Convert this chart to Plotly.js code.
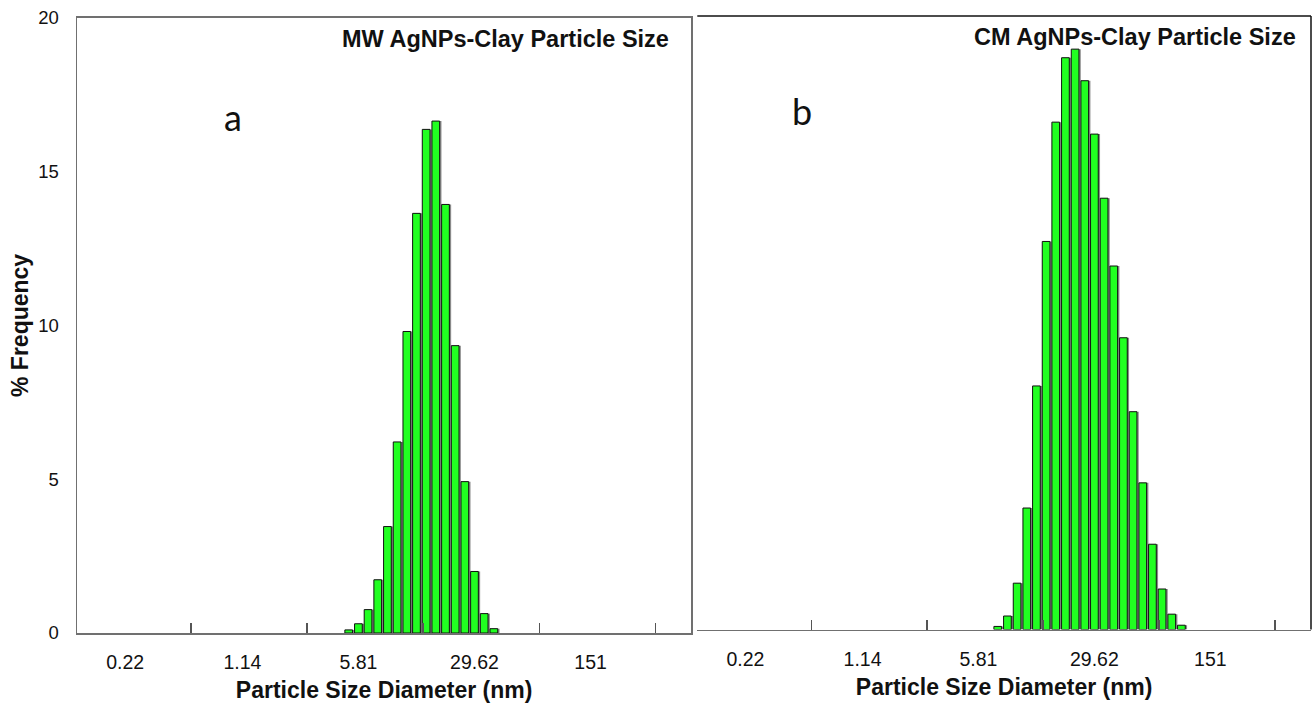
<!DOCTYPE html>
<html>
<head>
<meta charset="utf-8">
<script src="https://cdn.plot.ly/plotly-3.0.1.min.js"></script>
<style>html,body{margin:0;padding:0;background:#fff;}#chart{width:1313px;height:706px;}</style>
</head>
<body>
<div id="chart"></div>
<script>
// ---- data ----
const tickLabelValues = [0.22, 1.14, 5.81, 29.62, 151];
const tickLabelText = ['0.22', '1.14', '5.81', '29.62', '151'];
const tickMarkValues = [0.555, 2.83, 14.4, 73.5, 375];
const yTickValues = [0, 5, 10, 15, 20];

const mwDiameter = [5.07, 5.81, 6.65, 7.62, 8.73, 10.0, 11.46, 13.12, 15.03, 17.21, 19.72, 22.59, 25.87, 29.62, 33.94, 38.88];
const mwFrequency = [0.1, 0.3, 0.76, 1.73, 3.46, 6.21, 9.8, 13.64, 16.37, 16.64, 13.93, 9.34, 4.92, 2.0, 0.63, 0.14];

const cmDiameter = [7.62, 8.73, 10.0, 11.46, 13.12, 15.03, 17.21, 19.72, 22.59, 25.87, 29.62, 33.94, 38.88, 44.53, 51.0, 58.42, 66.92, 76.65, 87.79, 100.56];
const cmFrequency = [0.1, 0.44, 1.51, 3.96, 7.94, 12.65, 16.54, 18.64, 18.92, 17.89, 16.15, 14.06, 11.85, 9.51, 7.1, 4.78, 2.78, 1.32, 0.5, 0.14];

// ---- layout helpers ----
const L = 77, R = 2, T = 16, B = 73, W = 1313, H = 706;
const PW = W - L - R, PH = H - T - B;
const P = px => (px - L) / PW;
const Q = py => (H - B - py) / PH;
const lg = v => Math.log10(v);
const XR = [-0.951, 2.793];
const BW = 0.047;
const GREEN = '#21ff21';
const FONT = 'Liberation Sans, Arial, Helvetica, sans-serif';

function barTraces(xs, ys, xa, ya) {
  const lx = xs.map(lg);
  return [
    { type: 'bar', x: lx, y: ys, xaxis: xa, yaxis: ya, width: BW, offset: -BW / 2 + 0.011,
      marker: { color: '#8a8a8a', line: { width: 0 } }, hoverinfo: 'skip' },
    { type: 'bar', x: lx, y: ys, xaxis: xa, yaxis: ya, width: BW,
      marker: { color: GREEN, line: { color: '#111', width: 1 } } }
  ];
}

const data = [
  ...barTraces(mwDiameter, mwFrequency, 'x', 'y'),
  ...barTraces(cmDiameter, cmFrequency, 'x2', 'y2'),
  { type: 'scatter', x: [], y: [], xaxis: 'x3', yaxis: 'y' },
  { type: 'scatter', x: [], y: [], xaxis: 'x4', yaxis: 'y2' }
];

const tickAxis = (dom, anchor) => ({
  domain: dom, anchor: anchor, range: XR, showline: true, mirror: anchor === 'y',
  linecolor: '#707070', linewidth: 1.5, ticks: 'inside', ticklen: 10, tickwidth: 1.5, tickcolor: '#555',
  tickmode: 'array', tickvals: tickMarkValues.map(lg), showticklabels: false,
  showgrid: false, zeroline: false, fixedrange: true
});
const labelAxis = (over, anchor) => ({
  overlaying: over, anchor: anchor, range: XR, tickmode: 'array',
  tickvals: tickLabelValues.map(lg), ticktext: tickLabelText,
  ticks: 'outside', ticklen: 12, tickcolor: 'rgba(0,0,0,0)', showline: false, showgrid: false, zeroline: false,
  tickfont: { family: FONT, size: 19.5, color: '#111' },
  title: { text: 'Particle Size Diameter (nm)', font: { family: FONT, size: 23, weight: 'bold', color: '#111' }, standoff: 9 },
  fixedrange: true
});

const layout = {
  width: W, height: H, margin: { l: L, r: R, t: T, b: B },
  paper_bgcolor: '#fff', plot_bgcolor: 'rgba(0,0,0,0)', showlegend: false, barmode: 'overlay',
  font: { family: FONT, color: '#111' },
  xaxis: tickAxis([0, P(691.3)], 'y'),
  xaxis2: tickAxis([P(697.3), 1], 'y2'),
  xaxis3: labelAxis('x', 'y'),
  xaxis4: labelAxis('x2', 'y2'),
  yaxis: {
    domain: [0, Q(17.7)], anchor: 'x', range: [0, 20], tickmode: 'array', tickvals: yTickValues,
    ticks: 'outside', ticklen: 13, tickcolor: 'rgba(0,0,0,0)', showline: true, mirror: true,
    linecolor: '#707070', linewidth: 1.5, showgrid: false, zeroline: false,
    tickfont: { family: FONT, size: 18.5, color: '#111' },
    fixedrange: true
  },
  yaxis2: {
    domain: [Q(629.5), 1], anchor: 'x2', range: [0, 20], showticklabels: false, ticks: '',
    showline: false, showgrid: false, zeroline: false, fixedrange: true
  },
  shapes: [
    { type: 'line', xref: 'x2 domain', yref: 'y2 domain', x0: 0, x1: 1, y0: 1, y1: 1, line: { color: '#111', width: 1.5 } },
    { type: 'line', xref: 'x2 domain', yref: 'y2 domain', x0: 1, x1: 1, y0: 0, y1: 1, line: { color: '#111', width: 1.5 } }
  ],
  annotations: [
    { text: '% Frequency', xref: 'paper', yref: 'paper', x: P(20), y: Q(326), xanchor: 'center', yanchor: 'middle', textangle: -90,
      showarrow: false, font: { family: FONT, size: 23, weight: 'bold', color: '#111' } },
    { text: 'MW AgNPs-Clay Particle Size', xref: 'paper', yref: 'paper', x: P(670.7), y: Q(39), xanchor: 'right', yanchor: 'middle',
      showarrow: false, font: { family: FONT, size: 23.5, weight: 'bold', color: '#111' } },
    { text: 'CM AgNPs-Clay Particle Size', xref: 'paper', yref: 'paper', x: P(1298), y: Q(37), xanchor: 'right', yanchor: 'middle',
      showarrow: false, font: { family: FONT, size: 23.5, weight: 'bold', color: '#111' } },
    { text: 'a', xref: 'paper', yref: 'paper', x: P(232.5), y: Q(117), xanchor: 'center', yanchor: 'middle',
      showarrow: false, font: { family: 'Lato, Open Sans, sans-serif', size: 36, color: '#111' } },
    { text: 'b', xref: 'paper', yref: 'paper', x: P(802), y: Q(111), xanchor: 'center', yanchor: 'middle',
      showarrow: false, font: { family: 'Lato, Open Sans, sans-serif', size: 36, color: '#111' } }
  ]
};

Plotly.newPlot('chart', data, layout, { staticPlot: true, displayModeBar: false });
</script>
</body>
</html>
